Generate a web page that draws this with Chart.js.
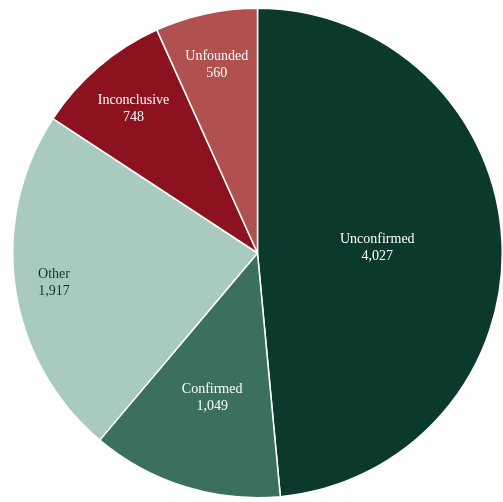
<!DOCTYPE html>
<html>
<head>
<meta charset="utf-8">
<script src="https://cdn.jsdelivr.net/npm/chart.js@4.4.1/dist/chart.umd.min.js"></script>
<style>
  html, body { margin: 0; padding: 0; background: #ffffff; }
  #wrap { position: relative; width: 503px; height: 502px; }
</style>
</head>
<body>
<div id="wrap"><canvas id="pie" width="503" height="502"></canvas></div>
<script>
// Outcome categories, clockwise from 12 o'clock
const categories = ['Unconfirmed', 'Confirmed', 'Other', 'Inconclusive', 'Unfounded'];
const counts = [4027, 1049, 1917, 748, 560];
const countLabels = ['4,027', '1,049', '1,917', '748', '560'];

const sliceColors = ['#0b3a2d', '#3b705f', '#a9cbbf', '#8c1220', '#b0514f'];
const labelColors = ['#ffffff', '#ffffff', '#14302a', '#ffffff', '#ffffff'];
// how far out along each slice's bisector the label sits (fraction of radius)
const labelRadius = [0.49, 0.62, 0.84, 0.78, 0.79];

// Two-line labels drawn inside each slice
const sliceLabels = {
  id: 'sliceLabels',
  afterDatasetsDraw(chart) {
    const ctx = chart.ctx;
    const meta = chart.getDatasetMeta(0);
    ctx.save();
    ctx.font = '14px "Liberation Serif", "DejaVu Serif", serif';
    ctx.textAlign = 'center';
    ctx.textBaseline = 'middle';
    meta.data.forEach((arc, i) => {
      const p = arc.getProps(['x', 'y', 'startAngle', 'endAngle', 'outerRadius'], true);
      const mid = (p.startAngle + p.endAngle) / 2;
      const r = p.outerRadius * labelRadius[i];
      const x = p.x + Math.cos(mid) * r;
      const y = p.y + Math.sin(mid) * r;
      ctx.fillStyle = labelColors[i];
      ctx.fillText(categories[i], x, y - 8);
      ctx.fillText(countLabels[i], x, y + 9);
    });
    ctx.restore();
  }
};

new Chart(document.getElementById('pie'), {
  type: 'pie',
  data: {
    labels: categories,
    datasets: [{
      data: counts,
      backgroundColor: sliceColors,
      borderColor: '#ffffff',
      borderWidth: 1.5
    }]
  },
  options: {
    responsive: false,
    animation: false,
    rotation: 0,
    layout: { padding: { left: 12, right: 0, top: 7, bottom: 3 } },
    plugins: {
      legend: { display: false },
      tooltip: { enabled: false }
    }
  },
  plugins: [sliceLabels]
});
</script>
</body>
</html>
